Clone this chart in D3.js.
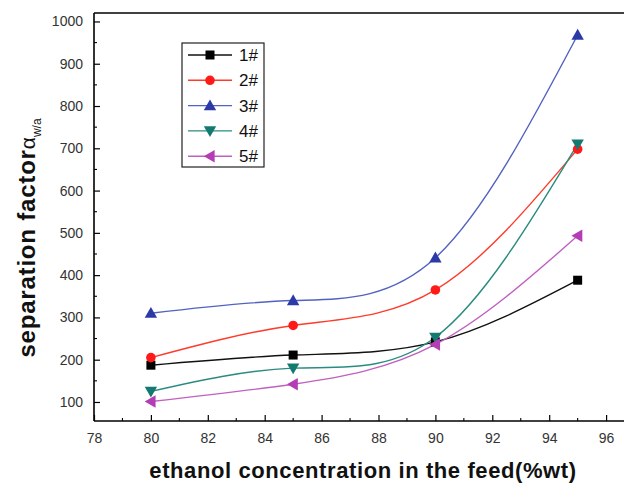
<!DOCTYPE html>
<html>
<head>
<meta charset="utf-8">
<script src="https://cdn.jsdelivr.net/npm/d3@7/dist/d3.min.js"></script>
<style>
  html, body { margin: 0; padding: 0; background: #fff; }
  svg { display: block; }
</style>
</head>
<body>
<svg id="chart" width="624" height="483"></svg>
<script>
// Ethanol concentration in the feed (%wt)
const concentrations = [80, 85, 90, 95];

// Separation factor for each membrane sample
const series1 = [187, 211, 242, 388];
const series2 = [205, 281, 365, 698];
const series3 = [310, 340, 441, 968];
const series4 = [125, 180, 253, 710];
const series5 = [101, 142, 236, 493];

const seriesNames = ["1#", "2#", "3#", "4#", "5#"];
const xTickValues = [78, 80, 82, 84, 86, 88, 90, 92, 94, 96];
const yTickValues = [100, 200, 300, 400, 500, 600, 700, 800, 900, 1000];

const styles = [
  { line: "#111111", fill: "#000000", symbol: "square" },
  { line: "#ff3b2a", fill: "#ff1a1a", symbol: "circle" },
  { line: "#5262c0", fill: "#2b3aa6", symbol: "up" },
  { line: "#2a8c80", fill: "#127a6e", symbol: "down" },
  { line: "#c060c0", fill: "#b43cb4", symbol: "left" }
];

const allSeries = [series1, series2, series3, series4, series5];

const svg = d3.select("#chart");
const plotLeft = 94, plotTop = 13, plotBottom = 421;

const x = d3.scaleLinear().domain([78, 98]).range([plotLeft, plotLeft + 20 * 28.45]);
const y = d3.scaleLinear().domain([55, 1020]).range([plotBottom, plotTop]);

// Marker shapes
function marker(g, kind, cx, cy, color) {
  if (kind === "square") {
    g.append("rect").attr("x", cx - 4.5).attr("y", cy - 4.5)
      .attr("width", 9).attr("height", 9).attr("fill", color);
  } else if (kind === "circle") {
    g.append("circle").attr("cx", cx).attr("cy", cy).attr("r", 4.8).attr("fill", color);
  } else {
    const s = 6.2;
    let pts;
    if (kind === "up") pts = [[cx, cy - s], [cx + s, cy + s * 0.75], [cx - s, cy + s * 0.75]];
    else if (kind === "down") pts = [[cx, cy + s], [cx + s, cy - s * 0.75], [cx - s, cy - s * 0.75]];
    else pts = [[cx - s, cy], [cx + s * 0.75, cy - s], [cx + s * 0.75, cy + s]];
    g.append("path").attr("d", "M" + pts.map(p => p.join(",")).join("L") + "Z").attr("fill", color);
  }
}

// Plot frame: left and top edges
svg.append("line").attr("x1", plotLeft).attr("x2", plotLeft).attr("y1", plotTop).attr("y2", plotBottom)
  .attr("stroke", "#000").attr("stroke-width", 1.6);
svg.append("line").attr("x1", plotLeft).attr("x2", 624).attr("y1", plotTop).attr("y2", plotTop)
  .attr("stroke", "#000").attr("stroke-width", 1.6);

// Bottom axis with inward ticks
const xAxis = d3.axisBottom(x).tickValues(xTickValues).tickSizeInner(-6).tickSizeOuter(0)
  .tickPadding(12).tickFormat(d3.format("d"));
const gx = svg.append("g").attr("transform", `translate(0,${plotBottom})`).call(xAxis);
gx.select(".domain").attr("stroke-width", 1.6).attr("d", `M${plotLeft},0H624`);
gx.selectAll(".tick line").attr("stroke-width", 1.2);
gx.selectAll("text").attr("font-family", "Liberation Sans, Arial, sans-serif")
  .attr("font-size", 14).attr("fill", "#333");
// minor x ticks
svg.append("g").selectAll("line").data(d3.range(79, 98, 2)).join("line")
  .attr("x1", d => x(d)).attr("x2", d => x(d)).attr("y1", plotBottom).attr("y2", plotBottom - 3)
  .attr("stroke", "#000").attr("stroke-width", 1.1);

// Left axis with inward ticks
const yAxis = d3.axisLeft(y).tickValues(yTickValues).tickSizeInner(-6).tickSizeOuter(0)
  .tickPadding(11).tickFormat(d3.format("d"));
const gy = svg.append("g").attr("transform", `translate(${plotLeft},0)`).call(yAxis);
gy.select(".domain").remove();
gy.selectAll(".tick line").attr("stroke-width", 1.2);
gy.selectAll("text").attr("font-family", "Liberation Sans, Arial, sans-serif")
  .attr("font-size", 14).attr("fill", "#333");
// minor y ticks
svg.append("g").selectAll("line").data(d3.range(150, 1001, 100)).join("line")
  .attr("x1", plotLeft).attr("x2", plotLeft + 3).attr("y1", d => y(d)).attr("y2", d => y(d))
  .attr("stroke", "#000").attr("stroke-width", 1.1);

// Curves and markers
const lineGen = d3.line().x(d => x(d[0])).y(d => y(d[1])).curve(d3.curveNatural);
allSeries.forEach((vals, i) => {
  const pts = concentrations.map((c, j) => [c, vals[j]]);
  svg.append("path").attr("d", lineGen(pts)).attr("fill", "none")
    .attr("stroke", styles[i].line).attr("stroke-width", 1.4);
});
allSeries.forEach((vals, i) => {
  const g = svg.append("g");
  concentrations.forEach((c, j) => marker(g, styles[i].symbol, x(c), y(vals[j]), styles[i].fill));
});

// Legend
const legend = svg.append("g");
legend.append("rect").attr("x", 182).attr("y", 43).attr("width", 82).attr("height", 124)
  .attr("fill", "#fff").attr("stroke", "#222").attr("stroke-width", 1.2);
seriesNames.forEach((name, i) => {
  const ly = 55 + i * 25.3;
  legend.append("line").attr("x1", 188).attr("x2", 232).attr("y1", ly).attr("y2", ly)
    .attr("stroke", styles[i].line).attr("stroke-width", 1.4);
  marker(legend, styles[i].symbol, 210, ly, styles[i].fill);
  legend.append("text").attr("x", 239).attr("y", ly + 6).text(name)
    .attr("font-family", "Liberation Sans, Arial, sans-serif").attr("font-size", 17).attr("fill", "#111");
});

// Axis titles
svg.append("text").attr("x", 363).attr("y", 478).attr("text-anchor", "middle")
  .attr("font-family", "Liberation Sans, Arial, sans-serif").attr("font-weight", "bold")
  .attr("font-size", 22).attr("letter-spacing", 0.6).attr("fill", "#111")
  .text("ethanol concentration in the feed(%wt)");

const yt = svg.append("text").attr("transform", "translate(35,238) rotate(-90)")
  .attr("text-anchor", "middle").attr("font-family", "Liberation Sans, Arial, sans-serif")
  .attr("fill", "#111");
yt.append("tspan").attr("font-weight", "bold").attr("font-size", 24).attr("letter-spacing", 0.8)
  .text("separation factor");
yt.append("tspan").attr("font-size", 21).text("α");
yt.append("tspan").attr("font-size", 12).attr("dy", 6).text("w/a");
</script>
</body>
</html>
